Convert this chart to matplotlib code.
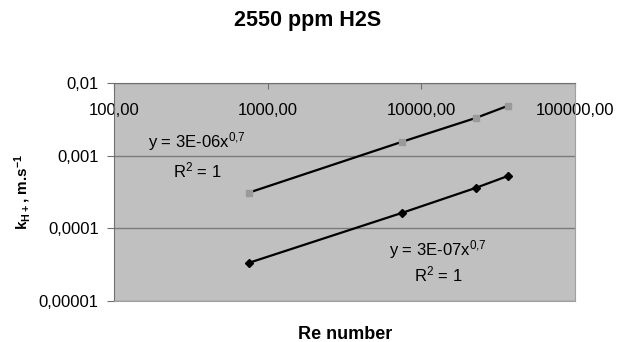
import matplotlib
matplotlib.use("Agg")
import matplotlib.pyplot as plt
from matplotlib.ticker import FixedLocator, FixedFormatter, NullLocator

plt.rcParams['font.family'] = ['Liberation Sans', 'DejaVu Sans']
plt.rcParams['mathtext.default'] = 'regular'

# data
re_number = [755, 7480, 22600, 36600]
k_upper = [3.1e-4, 1.55e-3, 3.3e-3, 4.85e-3]
k_lower = [3.35e-5, 1.63e-4, 3.6e-4, 5.25e-4]

x_ticks = [100, 1000, 10000, 100000]
x_labels = ["100,00", "1000,00", "10000,00", "100000,00"]
y_ticks = [1e-5, 1e-4, 1e-3, 1e-2]
y_labels = ["0,00001", "0,0001", "0,001", "0,01"]

fig = plt.figure(figsize=(6.17, 3.42), dpi=100)
ax = fig.add_axes([0.1848, 0.1199, 0.747, 0.6374])
ax.set_facecolor('#c0c0c0')

ax.plot(re_number, k_upper, color='black', lw=1.6, zorder=2)
ax.plot(re_number, k_upper, ls='none', marker='s', ms=4.5, color='#9a9a9a', zorder=3)
ax.plot(re_number, k_lower, color='black', lw=1.6, marker='D', ms=4, zorder=3)

ax.set_xscale('log')
ax.set_yscale('log')
ax.set_xlim(100, 100000)
ax.set_ylim(1e-5, 1e-2)

ax.xaxis.set_major_locator(FixedLocator(x_ticks))
ax.xaxis.set_major_formatter(FixedFormatter(x_labels))
ax.xaxis.set_minor_locator(NullLocator())
ax.yaxis.set_major_locator(FixedLocator(y_ticks))
ax.yaxis.set_major_formatter(FixedFormatter(y_labels))
ax.yaxis.set_minor_locator(NullLocator())

ax.tick_params(axis='x', top=True, bottom=False, labeltop=True, labelbottom=False,
               direction='in', length=4, color='#707070', pad=-25, labelsize=12)
ax.tick_params(axis='y', direction='out', length=5, color='#707070', labelsize=12, pad=6)

ax.grid(axis='y', color='#7a7a7a', lw=1)
ax.set_axisbelow(True)
for side in ['top', 'left']:
    ax.spines[side].set_color('#707070')
for side in ['bottom', 'right']:
    ax.spines[side].set_color('#a0a0a0')

ax.text(347, 1.55e-3, "y = 3E-06x$^{0{,}7}$", ha='center', va='center', fontsize=12)
ax.text(347, 6.3e-4, "R$^{2}$ = 1", ha='center', va='center', fontsize=12)
ax.text(12800, 5.05e-5, "y = 3E-07x$^{0{,}7}$", ha='center', va='center', fontsize=12)
ax.text(12800, 2.3e-5, "R$^{2}$ = 1", ha='center', va='center', fontsize=12)

ax.set_ylabel("k$_{H+}$, m.s$^{-1}$", fontsize=11, fontweight='bold')
ax.yaxis.set_label_coords(-0.175, 0.5)
fig.text(0.559, 0.023, "Re number", ha='center', va='center', fontsize=13, fontweight='bold')
fig.text(0.499, 0.939, "2550 ppm H2S", ha='center', va='center', fontsize=15.5, fontweight='bold')

fig.savefig("out.png", dpi=100)
